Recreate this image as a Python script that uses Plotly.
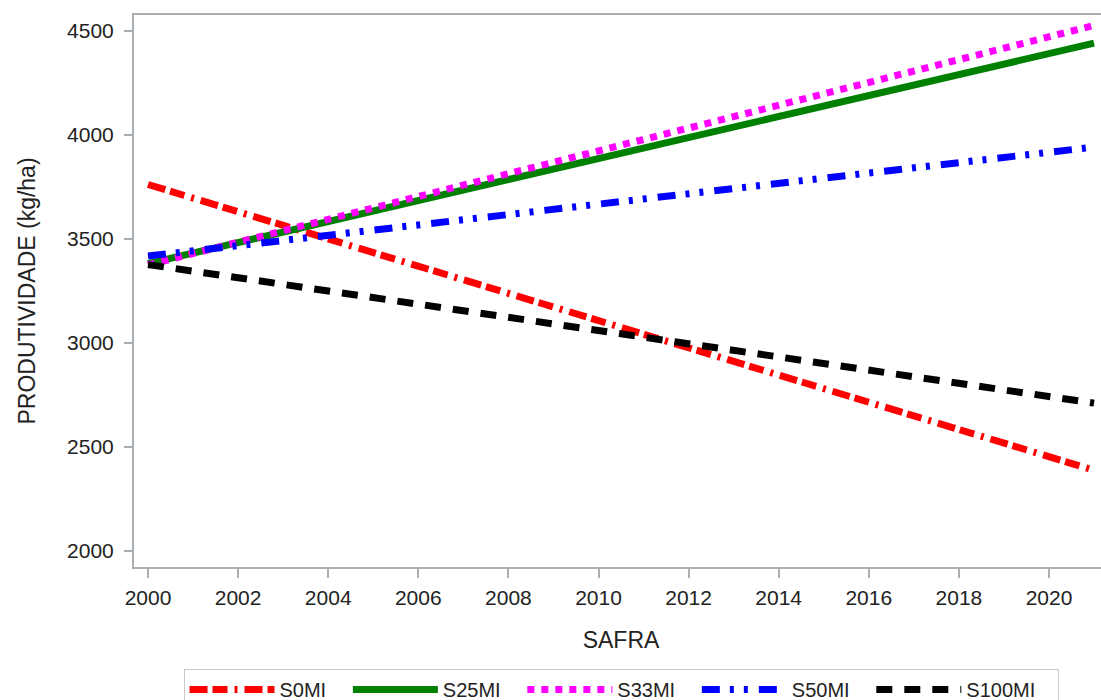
import plotly.graph_objects as go

# Fitted trend lines of yield (kg/ha) per season, start and end points
years = [2000, 2021]
series_names = ["S0MI", "S25MI", "S33MI", "S50MI", "S100MI"]
s0mi = [3762, 2388]
s25mi = [3382, 4442]
s33mi = [3375, 4527]
s50mi = [3418, 3942]
s100mi = [3377, 2711]

x_ticks = [2000, 2002, 2004, 2006, 2008, 2010, 2012, 2014, 2016, 2018, 2020]
y_ticks = [2000, 2500, 3000, 3500, 4000, 4500]

values = [s0mi, s25mi, s33mi, s50mi, s100mi]
colors = ["#ff0000", "#008000", "#ff00ff", "#0000ff", "#000000"]
dashes = [
    "18px,5px,15px,7px,3px,7px",
    "solid",
    "7px,7px",
    "18px,10px,4px,10px,4px,11px",
    "16px,12px",
]

FONT = "Arial, Liberation Sans, sans-serif"
AXIS_GREY = "#a9afb3"
PAD = "\u00a0\u00a0\u00a0"  # trailing space after each legend label

fig = go.Figure()
for name, vals, col, dash in zip(series_names, values, colors, dashes):
    fig.add_trace(go.Scatter(
        x=years, y=vals, name=name + PAD, mode="lines",
        line=dict(color=col, width=7, dash=dash),
    ))

fig.update_layout(
    width=1110, height=700,
    margin=dict(l=134, r=2, t=15, b=133, autoexpand=False),
    paper_bgcolor="white", plot_bgcolor="white",
    font=dict(family=FONT, color="#222222"),
    showlegend=True,
    legend=dict(
        orientation="h", x=0.5, xanchor="center", y=-0.185, yanchor="top",
        bordercolor="#c8c8c8", borderwidth=1,
        font=dict(size=20, color="#222222"),
        itemwidth=85, traceorder="normal",
    ),
)

fig.update_xaxes(
    range=[1999.689, 2021.31],
    tickmode="array", tickvals=x_ticks, ticktext=[str(v) for v in x_ticks],
    showgrid=False, zeroline=False,
    showline=True, linecolor=AXIS_GREY, linewidth=2, mirror=True,
    ticks="outside", ticklen=9, tickwidth=2, tickcolor=AXIS_GREY,
    ticklabelstandoff=2,
    tickfont=dict(size=21, color="#222222"),
    title=dict(text="SAFRA", font=dict(size=23, color="#222222"), standoff=24),
)
fig.update_yaxes(
    range=[1923, 4577],
    tickmode="array", tickvals=y_ticks, ticktext=[str(v) for v in y_ticks],
    showgrid=False, zeroline=False,
    showline=True, linecolor=AXIS_GREY, linewidth=2,
    ticks="outside", ticklen=8, tickwidth=2, tickcolor=AXIS_GREY,
    ticklabelstandoff=6,
    tickfont=dict(size=21, color="#222222"),
    title=dict(text="PRODUTIVIDADE (kg/ha)", font=dict(size=23, color="#222222"), standoff=25),
)

fig.write_html("out.html", post_script="document.body.style.overflow='hidden';")
